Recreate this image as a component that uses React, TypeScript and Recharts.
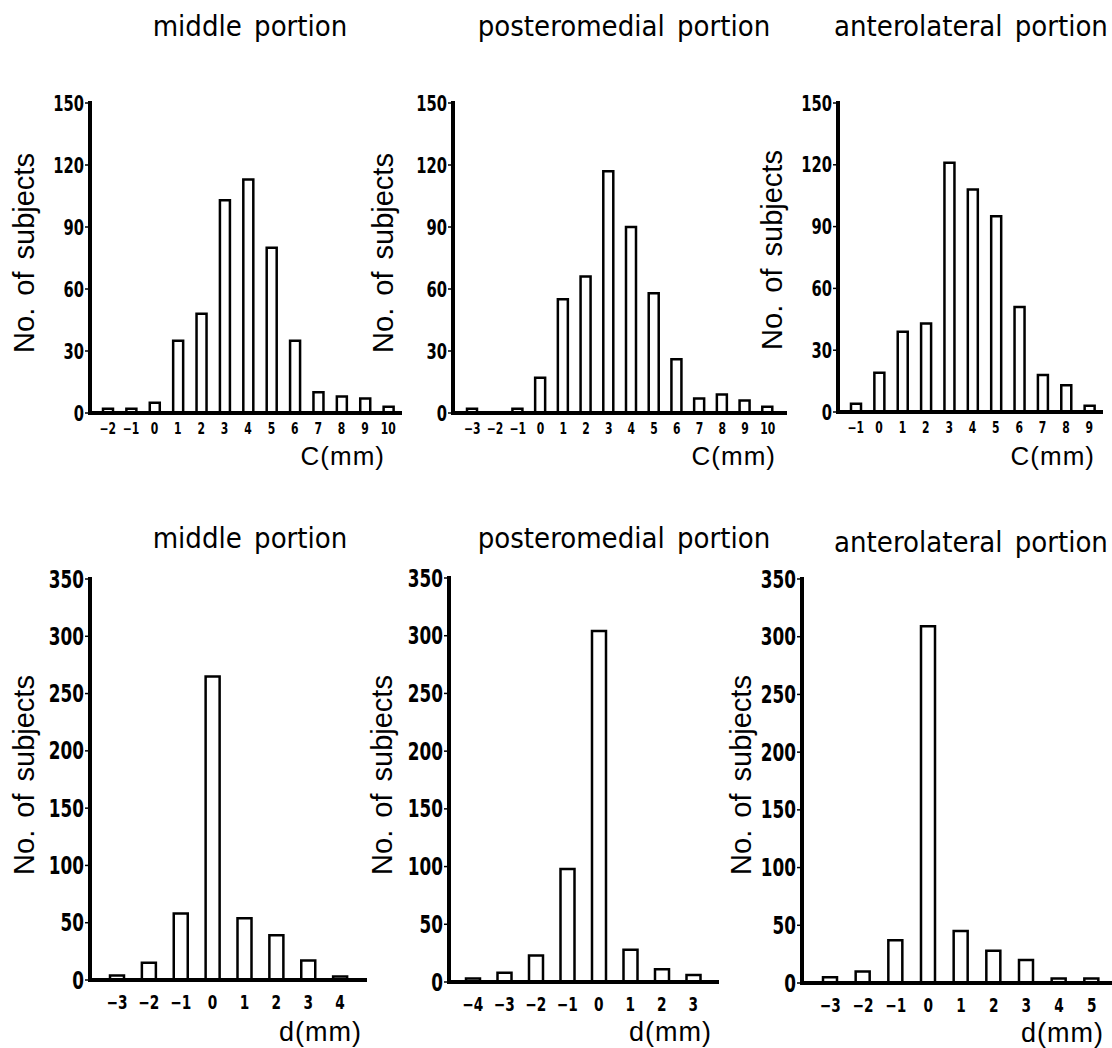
import React from "react";
import { BarChart, Bar, XAxis, YAxis } from "recharts";

const NARROW = '"DejaVu Sans Condensed", "Liberation Sans Narrow", "Arial Narrow", sans-serif';
const SANS = '"Liberation Sans", Arial, Helvetica, sans-serif';

// C (mm) – top row
const middleCLabels = ["−2", "−1", "0", "1", "2", "3", "4", "5", "6", "7", "8", "9", "10"];
const middleCCounts = [2, 2, 5, 35, 48, 103, 113, 80, 35, 10, 8, 7, 3];

const posteroCLabels = ["−3", "−2", "−1", "0", "1", "2", "3", "4", "5", "6", "7", "8", "9", "10"];
const posteroCCounts = [2, 0, 2, 17, 55, 66, 117, 90, 58, 26, 7, 9, 6, 3];

const anteroCLabels = ["−1", "0", "1", "2", "3", "4", "5", "6", "7", "8", "9"];
const anteroCCounts = [4, 19, 39, 43, 121, 108, 95, 51, 18, 13, 3];

// d (mm) – bottom row
const middleDLabels = ["−3", "−2", "−1", "0", "1", "2", "3", "4"];
const middleDCounts = [4, 15, 58, 265, 54, 39, 17, 3];

const posteroDLabels = ["−4", "−3", "−2", "−1", "0", "1", "2", "3"];
const posteroDCounts = [3, 8, 23, 98, 304, 28, 11, 6];

const anteroDLabels = ["−3", "−2", "−1", "0", "1", "2", "3", "4", "5"];
const anteroDCounts = [5, 10, 37, 309, 45, 28, 20, 4, 4];

const cTicks = [0, 30, 60, 90, 120, 150];
const dTicks = [0, 50, 100, 150, 200, 250, 300, 350];

type Box = { left: number; top: number; width: number; height: number };
type Plot = { x0: number; x1: number; y0: number; y1: number };

interface PanelProps {
  labels: string[];
  counts: number[];
  box: Box;
  plot: Plot;
  pad: [number, number];
  yMax: number;
  yTicks: number[];
  barSize: number;
  yFont: number;
  xFont: number;
  xTickGap: number;
  yLabelPos: { x: number; y: number };
  xLabel: string;
  xLabelPos: { x: number; y: number };
  xLabelFont: number;
}

const Y_W = 60;
const X_H = 30;

// condensed bold tick text (the scan uses a narrow bold face)
const makeTick = (fontSize: number, sx: number, axis: "x" | "y") => (props: any) => {
  const { x, y, payload } = props;
  return (
    <g transform={`translate(${x},${y})`}>
      <text
        transform={`scale(${sx},1)`}
        textAnchor={axis === "x" ? "middle" : "end"}
        dy={axis === "x" ? "0.73em" : "0.36em"}
        fontFamily={NARROW}
        fontWeight={700}
        fontSize={fontSize}
        fill="#000"
      >
        {payload.value}
      </text>
    </g>
  );
};

const Panel = ({
  labels,
  counts,
  box,
  plot,
  pad,
  yMax,
  yTicks,
  barSize,
  yFont,
  xFont,
  xTickGap,
  yLabelPos,
  xLabel,
  xLabelPos,
  xLabelFont,
}: PanelProps) => {
  const data = labels.map((x, i) => ({ x, n: counts[i] }));
  const margin = {
    left: plot.x0 - box.left - Y_W,
    right: box.left + box.width - plot.x1,
    top: plot.y0 - box.top,
    bottom: box.top + box.height - plot.y1 - X_H,
  };

  // y title, rotated
  const yx = yLabelPos.x - box.left;
  const yy = yLabelPos.y - box.top;

  return (
    <div style={{ position: "absolute", left: box.left, top: box.top }}>
      <BarChart width={box.width} height={box.height} data={data} margin={margin} barCategoryGap={0}>
        <XAxis
          dataKey="x"
          height={X_H}
          interval={0}
          padding={{ left: pad[0], right: pad[1] }}
          axisLine={{ stroke: "#000", strokeWidth: 4, strokeLinecap: "square" }}
          tickLine={false}
          tickSize={0}
          tickMargin={xTickGap}
          tick={makeTick(xFont, 0.8, "x")}
          label={{
            content: () => (
              <text
                x={xLabelPos.x - box.left}
                y={xLabelPos.y - box.top}
                textAnchor="end"
                fontFamily={SANS}
                fontSize={xLabelFont}
                letterSpacing={1}
                fill="#000"
              >
                {xLabel}
              </text>
            ),
          }}
        />
        <YAxis
          width={Y_W}
          domain={[0, yMax]}
          ticks={yTicks}
          interval={0}
          axisLine={{ stroke: "#000", strokeWidth: 4, strokeLinecap: "square" }}
          tickLine={{ stroke: "#000", strokeWidth: 1.5 }}
          tickSize={5}
          tickMargin={1}
          tick={makeTick(yFont, 0.78, "y")}
          label={{
            content: () => (
              <text
                x={yx}
                y={yy}
                transform={`rotate(-90 ${yx} ${yy})`}
                textAnchor="middle"
                dominantBaseline="central"
                fontFamily={SANS}
                fontSize={29}
                wordSpacing={4}
                fill="#000"
              >
                No. of subjects
              </text>
            ),
          }}
        />
        <Bar dataKey="n" barSize={barSize} fill="#fff" stroke="#000" strokeWidth={2.5} isAnimationActive={false} />
      </BarChart>
    </div>
  );
};

const Title = ({ text, cx, baseline }: { text: string; cx: number; baseline: number }) => (
  <div
    style={{
      position: "absolute",
      left: cx - 200,
      width: 400,
      top: baseline - 0.85 * 29,
      textAlign: "center",
      fontFamily: NARROW,
      fontSize: 29,
      lineHeight: 1,
      color: "#000",
      wordSpacing: 4,
    }}
  >
    {text}
  </div>
);

export default function App() {
  const topC = { yMax: 150, yTicks: cTicks, barSize: 10, yFont: 21, xFont: 15, xTickGap: 10, xLabel: "C(mm)", xLabelFont: 26 };
  const botD = { yMax: 350, yTicks: dTicks, barSize: 14, yFont: 24, xFont: 19, xTickGap: 15, xLabel: "d(mm)", xLabelFont: 27 };

  return (
    <div
      style={{
        position: "absolute",
        left: 0,
        top: 0,
        width: 1112,
        height: 1048,
        background: "#fff",
        overflow: "hidden",
      }}
    >
      <Title text="middle portion" cx={250} baseline={37} />
      <Title text="posteromedial portion" cx={624} baseline={37} />
      <Title text="anterolateral portion" cx={971} baseline={37} />
      <Title text="middle portion" cx={250} baseline={549} />
      <Title text="posteromedial portion" cx={624} baseline={549} />
      <Title text="anterolateral portion" cx={971} baseline={553} />

      <Panel
        {...topC}
        labels={middleCLabels}
        counts={middleCCounts}
        box={{ left: 0, top: 60, width: 420, height: 420 }}
        plot={{ x0: 90, x1: 400, y0: 103, y1: 413 }}
        pad={[6, 0]}
        yLabelPos={{ x: 24, y: 253 }}
        xLabelPos={{ x: 385, y: 465 }}
      />
      <Panel
        {...topC}
        labels={posteroCLabels}
        counts={posteroCCounts}
        box={{ left: 350, top: 60, width: 440, height: 420 }}
        plot={{ x0: 453, x1: 785, y0: 103, y1: 413 }}
        pad={[8, 6]}
        yLabelPos={{ x: 383, y: 253 }}
        xLabelPos={{ x: 776, y: 465 }}
      />
      <Panel
        {...topC}
        labels={anteroCLabels}
        counts={anteroCCounts}
        box={{ left: 730, top: 60, width: 382, height: 420 }}
        plot={{ x0: 838, x1: 1101, y0: 103, y1: 412 }}
        pad={[6, 0]}
        yLabelPos={{ x: 772, y: 250 }}
        xLabelPos={{ x: 1095, y: 465 }}
      />

      <Panel
        {...botD}
        labels={middleDLabels}
        counts={middleDCounts}
        box={{ left: 0, top: 560, width: 380, height: 488 }}
        plot={{ x0: 90, x1: 365, y0: 579, y1: 980 }}
        pad={[11, 9]}
        yLabelPos={{ x: 24, y: 775 }}
        xLabelPos={{ x: 362, y: 1041 }}
      />
      <Panel
        {...botD}
        labels={posteroDLabels}
        counts={posteroDCounts}
        box={{ left: 350, top: 560, width: 380, height: 488 }}
        plot={{ x0: 449, x1: 717, y0: 578, y1: 982 }}
        pad={[8, 8]}
        yLabelPos={{ x: 382, y: 775 }}
        xLabelPos={{ x: 712, y: 1041 }}
      />
      <Panel
        {...botD}
        labels={anteroDLabels}
        counts={anteroDCounts}
        box={{ left: 710, top: 560, width: 402, height: 488 }}
        plot={{ x0: 802, x1: 1110, y0: 579, y1: 983 }}
        pad={[12, 2]}
        yLabelPos={{ x: 741, y: 775 }}
        xLabelPos={{ x: 1104, y: 1042 }}
      />
    </div>
  );
}
